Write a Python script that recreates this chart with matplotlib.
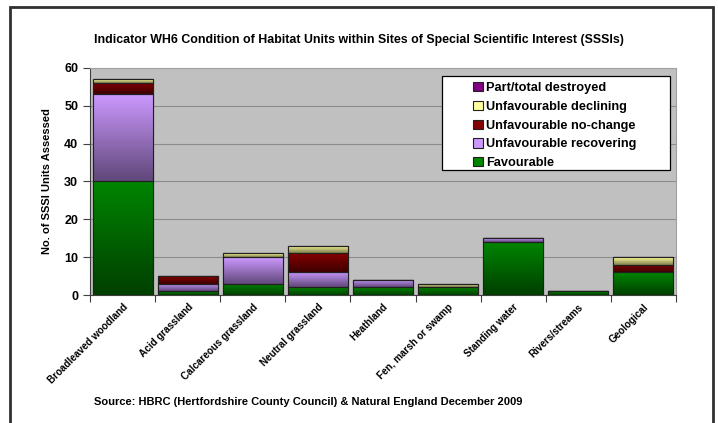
import numpy as np
import matplotlib
matplotlib.use("Agg")
import matplotlib.pyplot as plt
from matplotlib.colors import LinearSegmentedColormap
from matplotlib.patches import Rectangle

plt.rcParams['font.family'] = ['Liberation Sans', 'DejaVu Sans']

categories = ["Broadleaved woodland", "Acid grassland", "Calcareous grassland",
              "Neutral grassland", "Heathland", "Fen, marsh or swamp",
              "Standing water", "Rivers/streams", "Geological"]
favourable = [30, 1, 3, 2, 2, 2, 14, 1, 6]
recovering = [23, 2, 7, 4, 2, 0, 1, 0, 0]
no_change = [3, 2, 0, 5, 0, 0, 0, 0, 2]
declining = [1, 0, 1, 2, 0, 1, 0, 0, 2]
destroyed = [0, 0, 0, 0, 0, 0, 0, 0, 0]

# (label, values, top colour, bottom colour) - stacked bottom to top
series = [
    ("Favourable", favourable, (0.0, 0.52, 0.0), (0.0, 0.25, 0.0)),
    ("Unfavourable recovering", recovering, (0.80, 0.60, 1.0), (0.38, 0.28, 0.48)),
    ("Unfavourable no-change", no_change, (0.52, 0.0, 0.0), (0.25, 0.0, 0.0)),
    ("Unfavourable declining", declining, (1.0, 1.0, 0.62), (0.5, 0.5, 0.30)),
    ("Part/total destroyed", destroyed, (0.50, 0.0, 0.50), (0.25, 0.0, 0.25)),
]

fig = plt.figure(figsize=(7.18, 4.23), dpi=100)
ax = fig.add_axes([90 / 718, 1 - 295 / 423, 586 / 718, 227 / 423])
ax.set_facecolor("#c0c0c0")

x = np.arange(len(categories))
width = 0.92
grad = np.linspace(1, 0, 64).reshape(-1, 1)

bottom = np.zeros(len(categories))
for label, vals, top_c, bot_c in series:
    vals = np.array(vals, dtype=float)
    cmap = LinearSegmentedColormap.from_list(label, [bot_c, top_c])
    bars = ax.bar(x, vals, width, bottom=bottom, color=top_c, edgecolor="#202020",
                  linewidth=0.8, zorder=3, label=label)
    for b in bars:
        if b.get_height() <= 0:
            continue
        x0, y0 = b.get_x(), b.get_y()
        im = ax.imshow(grad, cmap=cmap, aspect="auto", vmin=0, vmax=1,
                       extent=(x0, x0 + b.get_width(), y0, y0 + b.get_height()),
                       zorder=3.5, interpolation="bilinear")
        im.set_clip_path(b)
        edge = Rectangle((x0, y0), b.get_width(), b.get_height(), fill=False,
                         edgecolor="#202020", linewidth=0.8, zorder=4)
        ax.add_patch(edge)
    bottom += vals

ax.set_xlim(-0.5, len(categories) - 0.5)
ax.set_ylim(0, 60)
ax.set_yticks(range(0, 61, 10))
ax.yaxis.grid(True, color="#8c8c8c", linewidth=0.8, zorder=0)
ax.set_axisbelow(True)

ax.set_xticks(np.arange(len(categories) + 1) - 0.5)
ax.set_xticklabels([])
ax.set_xticks(x, minor=True)
ax.set_xticklabels(categories, minor=True, rotation=45, ha="right",
                   rotation_mode="anchor", fontsize=7.1, fontweight="bold")
ax.tick_params(axis="x", which="minor", length=0, pad=5)
ax.tick_params(axis="x", which="major", length=5, color="#404040")
ax.tick_params(axis="y", length=5, color="#404040", labelsize=9)
for t in ax.get_yticklabels():
    t.set_fontweight("bold")

for s in ["left", "bottom"]:
    ax.spines[s].set_color("#404040")
for s in ["top", "right"]:
    ax.spines[s].set_color("#a0a0a0")

ax.set_ylabel("No. of SSSI Units Assessed", fontsize=8, fontweight="bold", labelpad=9)

# legend box (wide, with empty space on its left like the original)
ax.add_patch(Rectangle(((442 - 90) / 586, (295 - 170) / 227), 228 / 586, 94 / 227,
                       transform=ax.transAxes, facecolor="white", edgecolor="black",
                       linewidth=0.9, zorder=5))
handles, labels = ax.get_legend_handles_labels()
leg = ax.legend(handles[::-1], labels[::-1], loc="upper left",
                bbox_to_anchor=((473 - 90) / 586, (295 - 82) / 227), frameon=False,
                prop={"weight": "bold", "size": 9.2},
                handlelength=0.75, handleheight=0.75, handletextpad=0.25,
                labelspacing=0.52, borderpad=0, borderaxespad=0)
leg.set_zorder(6)

fig.text(359 / 718, 1 - 40 / 423, "Indicator WH6 Condition of Habitat Units within Sites of Special Scientific Interest (SSSIs)",
         ha="center", va="center", fontsize=8.9, fontweight="bold")
fig.text(94 / 718, 1 - 402 / 423, "Source: HBRC (Hertfordshire County Council) & Natural England December 2009",
         ha="left", va="center", fontsize=8, fontweight="bold")

# outer chart border
fig.add_artist(Rectangle((10 / 718, -0.05), 703 / 718, 1.05 - 7 / 423,
                         transform=fig.transFigure, fill=False,
                         edgecolor="#303030", linewidth=2))

fig.savefig("out.png", dpi=100)
